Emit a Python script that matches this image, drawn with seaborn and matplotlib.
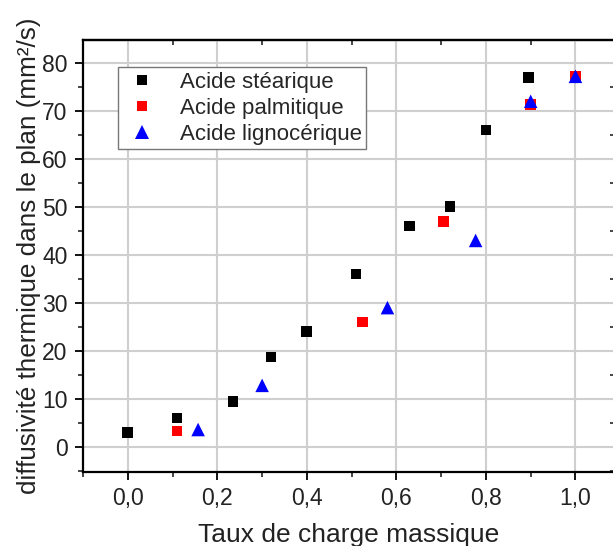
import numpy as np
import pandas as pd
import matplotlib
matplotlib.use("Agg")
import matplotlib.pyplot as plt
import seaborn as sns
from matplotlib.ticker import MultipleLocator, FixedLocator

# ---- data ----
series_names = ["Acide stéarique", "Acide palmitique", "Acide lignocérique"]
x_stearique = [0.0, 0.11, 0.235, 0.32, 0.40, 0.51, 0.63, 0.72, 0.80, 0.895]
y_stearique = [3.0, 6.0, 9.5, 18.7, 24.0, 36.0, 46.0, 50.0, 66.0, 77.0]
x_palmitique = [0.11, 0.525, 0.705, 0.90, 1.0]
y_palmitique = [3.3, 26.0, 47.0, 71.3, 77.2]
x_lignocerique = [0.157, 0.30, 0.58, 0.777, 0.90, 1.0]
y_lignocerique = [3.6, 12.8, 29.0, 43.0, 72.0, 77.2]
colors = ["#000000", "#ff0000", "#0000ff"]
markers = ["s", "s", "^"]
marker_sizes = [60, 60, 95]
x_ticks = [0.0, 0.2, 0.4, 0.6, 0.8, 1.0]
x_tick_labels = ["0,0", "0,2", "0,4", "0,6", "0,8", "1,0"]
y_ticks = [0, 10, 20, 30, 40, 50, 60, 70, 80]
x_label = "Taux de charge massique"
y_label = "diffusivité thermique dans le plan (mm²/s)"

df = pd.DataFrame({
    "x": x_stearique + x_palmitique + x_lignocerique,
    "y": y_stearique + y_palmitique + y_lignocerique,
    "serie": [series_names[0]] * len(x_stearique)
             + [series_names[1]] * len(x_palmitique)
             + [series_names[2]] * len(x_lignocerique),
})

sns.set_theme(style="white")
plt.rcParams["font.family"] = ["Liberation Sans", "DejaVu Sans"]

fig = plt.figure(figsize=(6.13, 5.46), dpi=100)
ax = fig.add_axes([0.135, 0.136, 0.868, 0.791])

sns.scatterplot(data=df, x="x", y="y", hue="serie", style="serie", size="serie",
                hue_order=series_names, style_order=series_names, size_order=series_names,
                palette=dict(zip(series_names, colors)),
                markers=dict(zip(series_names, markers)),
                sizes=dict(zip(series_names, marker_sizes)),
                linewidth=0, ax=ax, zorder=3, legend=True)

ax.set_xlim(-0.1007, 1.088)
ax.set_ylim(-5.2, 84.8)

ax.xaxis.set_major_locator(FixedLocator(x_ticks))
ax.set_xticklabels(x_tick_labels)
ax.xaxis.set_minor_locator(MultipleLocator(0.1))
ax.yaxis.set_major_locator(FixedLocator(y_ticks))
ax.yaxis.set_minor_locator(MultipleLocator(5))

ax.grid(True, which="major", color="#cfcfcf", linewidth=1.5, zorder=0)
ax.set_axisbelow(True)

for sp in ax.spines.values():
    sp.set_visible(True)
    sp.set_color("black")
    sp.set_linewidth(1.6)

ax.tick_params(axis="both", which="major", direction="out", length=6, width=1.3,
               labelsize=16.5, colors="black", pad=5, bottom=True, left=True)
ax.tick_params(axis="both", which="minor", direction="out", length=3.5, width=1.2,
               bottom=True, left=True)
for lab in ax.get_xticklabels() + ax.get_yticklabels():
    lab.set_color("#222222")

# inward mirrored ticks on top and right
top = ax.secondary_xaxis("top")
top.xaxis.set_major_locator(FixedLocator(x_ticks))
top.xaxis.set_minor_locator(MultipleLocator(0.1))
top.tick_params(which="major", direction="in", length=6, width=1.3, labeltop=False)
top.tick_params(which="minor", direction="in", length=3.5, width=1.2)
top.spines["top"].set_linewidth(1.6)
right = ax.secondary_yaxis("right")
right.yaxis.set_major_locator(FixedLocator(y_ticks))
right.yaxis.set_minor_locator(MultipleLocator(5))
right.tick_params(which="major", direction="in", length=6, width=1.3, labelright=False)
right.tick_params(which="minor", direction="in", length=3.5, width=1.2)

ax.set_xlabel(x_label, fontsize=19, color="#222222", labelpad=9.5)
ax.set_ylabel(y_label, fontsize=18.8, color="#222222", labelpad=1)

handles, labels = ax.get_legend_handles_labels()
leg = ax.legend(handles, labels, loc="upper left", bbox_to_anchor=(0.045, 0.962),
                fontsize=16, frameon=True, fancybox=False, edgecolor="#777777",
                framealpha=1, borderpad=0.2, handletextpad=0.8, labelspacing=0.22,
                handlelength=1.8, markerscale=1.0)
leg.get_frame().set_linewidth(1.0)

fig.savefig("out.png", dpi=100)
